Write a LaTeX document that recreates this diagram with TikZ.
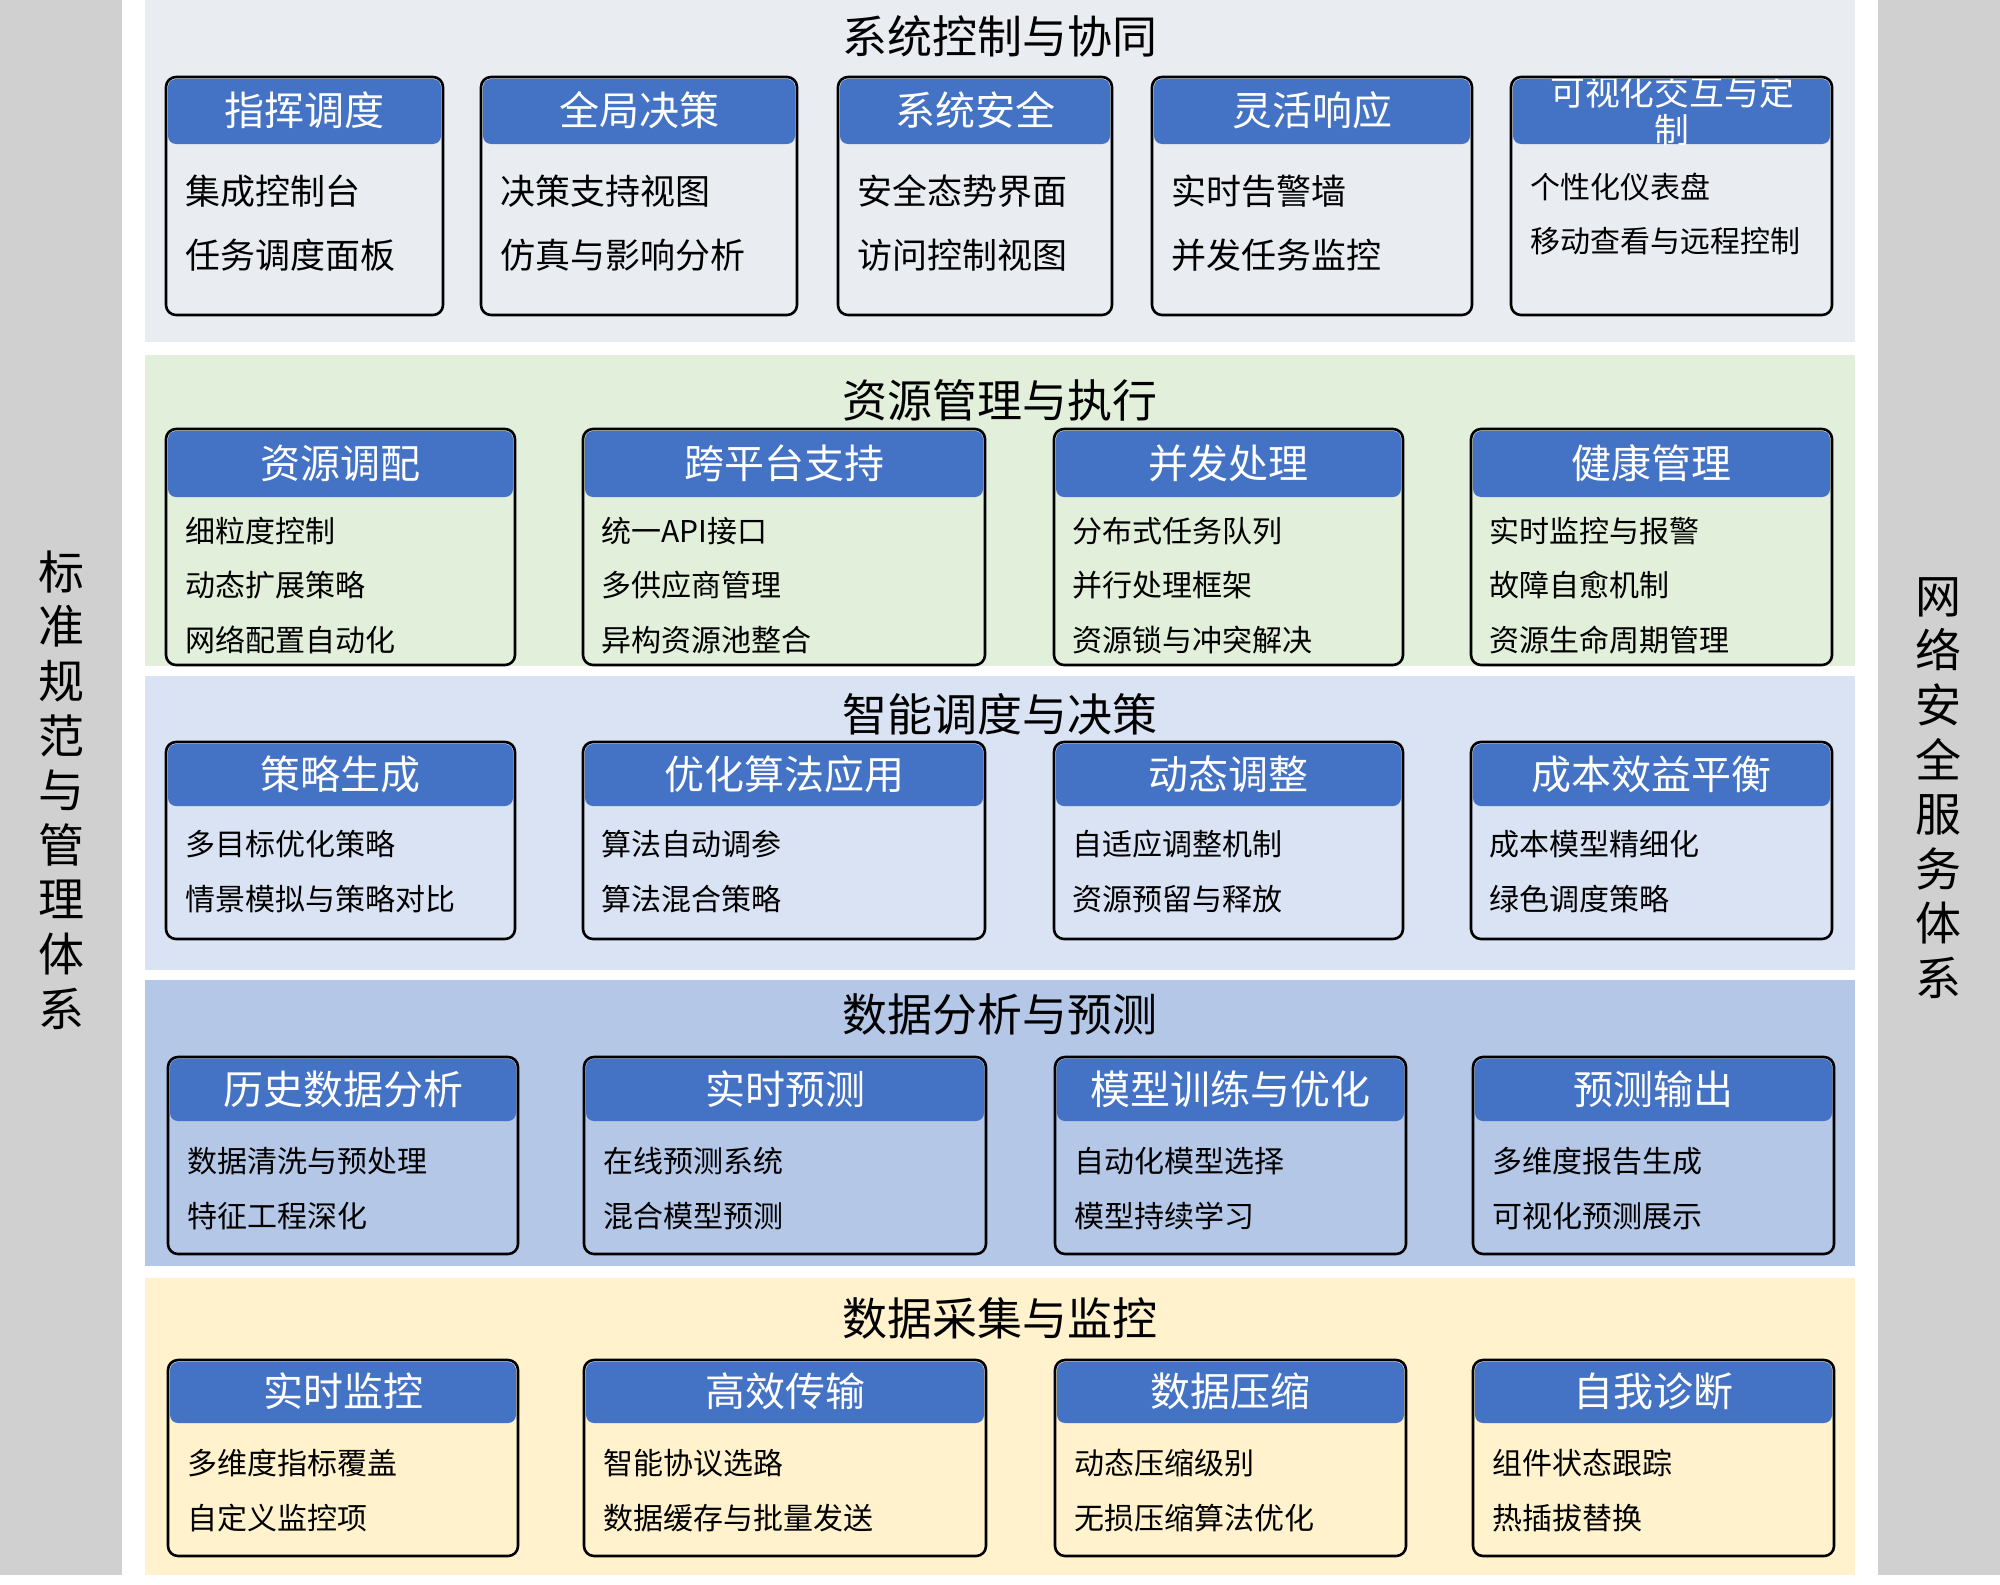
\documentclass[tikz,border=0pt]{standalone}
\usepackage{fontspec}
\setmainfont{Noto Sans CJK SC}
\definecolor{hdrblue}{HTML}{4472C4}
\definecolor{sidegray}{HTML}{D0D0D0}
\definecolor{lay1}{HTML}{E9EDF2}
\definecolor{lay2}{HTML}{E2EFDA}
\definecolor{lay3}{HTML}{DAE3F3}
\definecolor{lay4}{HTML}{B4C7E7}
\definecolor{lay5}{HTML}{FFF2CC}
\tikzset{
  cardframe/.style={draw=black, line width=1.3pt, rounded corners=5pt},
  hdrfill/.style={fill=hdrblue, rounded corners=4pt},
  hdrtext/.style={text=white, inner sep=0pt, font=\fontsize{20}{22}\selectfont},
  bodytext/.style={anchor=west, inner sep=0pt, text=black, font=\fontsize{15}{17}\selectfont},
  bigbody/.style={bodytext, font=\fontsize{17.5}{19}\selectfont},
  laytitle/.style={inner sep=0pt, text=black, font=\fontsize{22.5}{24}\selectfont},
  sidetext/.style={inner sep=0pt, align=center, text=black, font=\fontsize{23}{27.3}\selectfont},
}
% #1 name, #2 x1, #3 y1, #4 x2, #5 y2, #6 header bottom, #7 title
\newcommand\mycard[7]{%
  \path (#2,#3) coordinate (#1nw) (#4,#5) coordinate (#1se);
  \fill[hdrfill] ({#2+2},{#3+2}) rectangle ({#4-2},#6);
  \node[hdrtext] (#1h) at ({(#2+#4)/2},{(#3+#6)/2}) {#7};
  \draw[cardframe] (#1nw) rectangle (#1se);
}
\begin{document}
\begin{tikzpicture}[x=0.5pt,y=-0.5pt]
\useasboundingbox (0,0) rectangle (2000,1584);
\fill[white] (0,0) rectangle (2000,1584);
% side bars
\fill[sidegray] (0,0) rectangle (122,1575);
\fill[sidegray] (1878,0) rectangle (2000,1575);
\node[sidetext] (left) at (61,790) {标\\准\\规\\范\\与\\管\\理\\体\\系};
\node[sidetext] (right) at (1938,788) {网\\络\\安\\全\\服\\务\\体\\系};
% layers
\fill[lay1] (145,0) rectangle (1855,342);
\fill[lay2] (145,355) rectangle (1855,666);
\fill[lay3] (145,676) rectangle (1855,970);
\fill[lay4] (145,980) rectangle (1855,1266);
\fill[lay5] (145,1278) rectangle (1855,1575);
\node[laytitle] (t1) at (1000,36) {系统控制与协同};
\node[laytitle] (t2) at (1000,400) {资源管理与执行};
\node[laytitle] (t3) at (1000,714) {智能调度与决策};
\node[laytitle] (t4) at (1000,1014) {数据分析与预测};
\node[laytitle] (t5) at (1000,1318) {数据采集与监控};
% layer 1
\mycard{a1}{166}{77}{443}{315}{144}{指挥调度}
\node[bigbody] (a1x) at (185,191) {集成控制台};
\node[bigbody] (a1y) at (185,255) {任务调度面板};
\mycard{a2}{481}{77}{797}{315}{144}{全局决策}
\node[bigbody] (a2x) at (500,191) {决策支持视图};
\node[bigbody] (a2y) at (500,255) {仿真与影响分析};
\mycard{a3}{838}{77}{1112}{315}{144}{系统安全}
\node[bigbody] (a3x) at (857,191) {安全态势界面};
\node[bigbody] (a3y) at (857,255) {访问控制视图};
\mycard{a4}{1152}{77}{1472}{315}{144}{灵活响应}
\node[bigbody] (a4x) at (1171,191) {实时告警墙};
\node[bigbody] (a4y) at (1171,255) {并发任务监控};
% card 5 with clipped two-line header
\path (1511,77) coordinate (a5nw) (1832,315) coordinate (a5se);
\fill[hdrfill] (1513,79) rectangle (1830,144);
\begin{scope}
\clip (1513,79) rectangle (1830,144);
\node[hdrtext, align=center, font=\fontsize{17.4}{19}\selectfont] (a5h) at (1672,111) {可视化交互与定\\制};
\end{scope}
\draw[cardframe] (a5nw) rectangle (a5se);
\node[bodytext] (a5x) at (1530,187) {个性化仪表盘};
\node[bodytext] (a5y) at (1530,241) {移动查看与远程控制};
% layer 2
\mycard{b1}{166}{429}{515}{665}{497}{资源调配}
\node[bodytext] (b1x) at (185,531) {细粒度控制};
\node[bodytext] (b1y) at (185,585) {动态扩展策略};
\node[bodytext] (b1z) at (185,640) {网络配置自动化};
\mycard{b2}{583}{429}{985}{665}{497}{跨平台支持}
\node[bodytext] (b2x) at (601,531) {统一API接口};
\node[bodytext] (b2y) at (601,585) {多供应商管理};
\node[bodytext] (b2z) at (601,640) {异构资源池整合};
\mycard{b3}{1054}{429}{1403}{665}{497}{并发处理}
\node[bodytext] (b3x) at (1072,531) {分布式任务队列};
\node[bodytext] (b3y) at (1072,585) {并行处理框架};
\node[bodytext] (b3z) at (1072,640) {资源锁与冲突解决};
\mycard{b4}{1471}{429}{1832}{665}{497}{健康管理}
\node[bodytext] (b4x) at (1489,531) {实时监控与报警};
\node[bodytext] (b4y) at (1489,585) {故障自愈机制};
\node[bodytext] (b4z) at (1489,640) {资源生命周期管理};
% layer 3
\mycard{c1}{166}{742}{515}{939}{806}{策略生成}
\node[bodytext] (c1x) at (185,844) {多目标优化策略};
\node[bodytext] (c1y) at (185,899) {情景模拟与策略对比};
\mycard{c2}{583}{742}{985}{939}{806}{优化算法应用}
\node[bodytext] (c2x) at (601,844) {算法自动调参};
\node[bodytext] (c2y) at (601,899) {算法混合策略};
\mycard{c3}{1054}{742}{1403}{939}{806}{动态调整}
\node[bodytext] (c3x) at (1072,844) {自适应调整机制};
\node[bodytext] (c3y) at (1072,899) {资源预留与释放};
\mycard{c4}{1471}{742}{1832}{939}{806}{成本效益平衡}
\node[bodytext] (c4x) at (1489,844) {成本模型精细化};
\node[bodytext] (c4y) at (1489,899) {绿色调度策略};
% layer 4
\mycard{d1}{168}{1057}{518}{1254}{1121}{历史数据分析}
\node[bodytext] (d1x) at (187,1161) {数据清洗与预处理};
\node[bodytext] (d1y) at (187,1216) {特征工程深化};
\mycard{d2}{584}{1057}{986}{1254}{1121}{实时预测}
\node[bodytext] (d2x) at (603,1161) {在线预测系统};
\node[bodytext] (d2y) at (603,1216) {混合模型预测};
\mycard{d3}{1055}{1057}{1406}{1254}{1121}{模型训练与优化}
\node[bodytext] (d3x) at (1074,1161) {自动化模型选择};
\node[bodytext] (d3y) at (1074,1216) {模型持续学习};
\mycard{d4}{1473}{1057}{1834}{1254}{1121}{预测输出}
\node[bodytext] (d4x) at (1492,1161) {多维度报告生成};
\node[bodytext] (d4y) at (1492,1216) {可视化预测展示};
% layer 5
\mycard{e1}{168}{1360}{518}{1556}{1423}{实时监控}
\node[bodytext] (e1x) at (187,1463) {多维度指标覆盖};
\node[bodytext] (e1y) at (187,1518) {自定义监控项};
\mycard{e2}{584}{1360}{986}{1556}{1423}{高效传输}
\node[bodytext] (e2x) at (603,1463) {智能协议选路};
\node[bodytext] (e2y) at (603,1518) {数据缓存与批量发送};
\mycard{e3}{1055}{1360}{1406}{1556}{1423}{数据压缩}
\node[bodytext] (e3x) at (1074,1463) {动态压缩级别};
\node[bodytext] (e3y) at (1074,1518) {无损压缩算法优化};
\mycard{e4}{1473}{1360}{1834}{1556}{1423}{自我诊断}
\node[bodytext] (e4x) at (1492,1463) {组件状态跟踪};
\node[bodytext] (e4y) at (1492,1518) {热插拔替换};
\end{tikzpicture}
\end{document}
